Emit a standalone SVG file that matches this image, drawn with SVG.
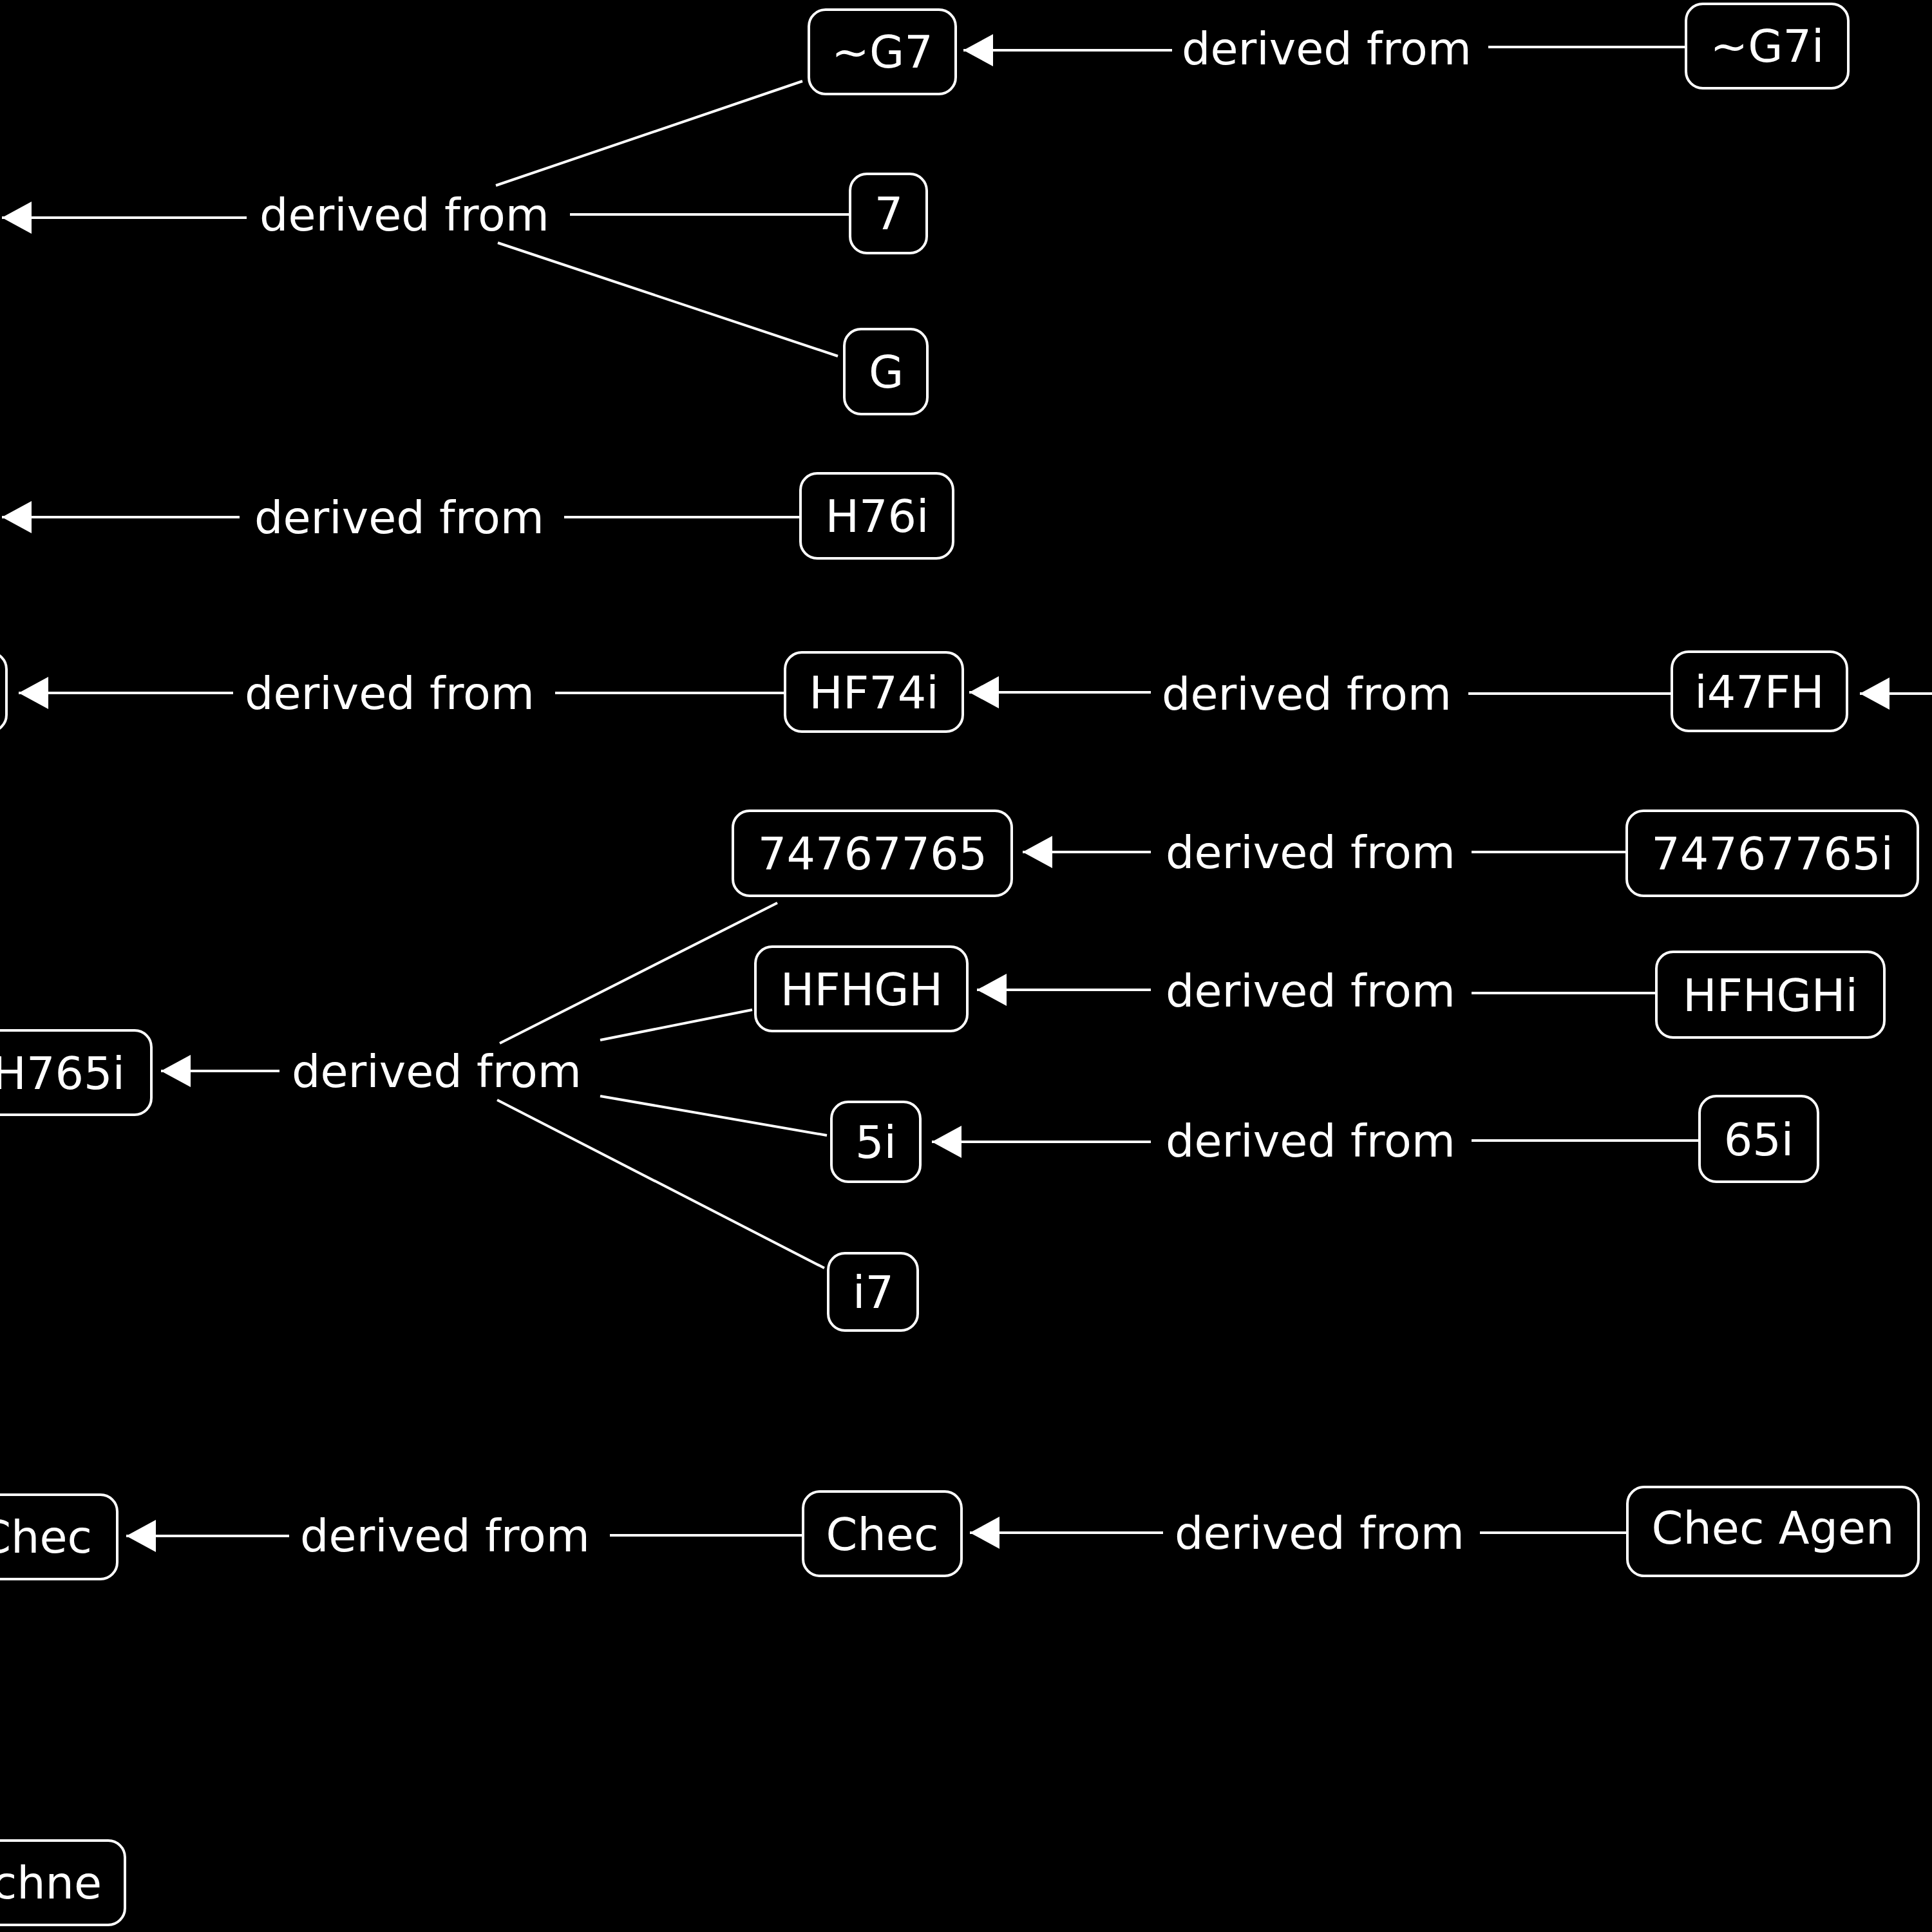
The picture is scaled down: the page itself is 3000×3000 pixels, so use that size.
<svg xmlns="http://www.w3.org/2000/svg" width="3000" height="3000" viewBox="0 0 3000 3000">
<style>
.bg{fill:#000}
.box{fill:#000;stroke:#fff;stroke-width:4}
.t{fill:#fff;font-family:"DejaVu Sans","Verdana",sans-serif;font-size:70px;text-anchor:middle}
.te{fill:#fff;font-family:"DejaVu Sans","Verdana",sans-serif;font-size:70px;text-anchor:end}
.c{stroke:#fff;stroke-width:4;fill:none}
.a{stroke:#fff;stroke-width:4;fill:none;marker-end:url(#ah)}
</style>
<defs>
<marker id="ah" markerUnits="userSpaceOnUse" markerWidth="46" markerHeight="50" refX="46" refY="25" orient="auto">
<path d="M0,0 L46,25 L0,50 Z" fill="#fff"/>
</marker>
</defs>
<rect class="bg" x="0" y="0" width="3000" height="3000"/>

<g id="connectors">
<line class="c" x1="2618" y1="73" x2="2311" y2="73"/>
<line class="a" x1="1820" y1="78" x2="1496" y2="78"/>
<text class="t" x="2060" y="100">derived from</text>
<line class="c" x1="1246" y1="126" x2="770" y2="288"/>
<line class="c" x1="1320" y1="333" x2="885" y2="333"/>
<line class="c" x1="1301" y1="553" x2="773" y2="377"/>
<line class="a" x1="383" y1="338" x2="3" y2="338"/>
<text class="t" x="628" y="358">derived from</text>
<line class="c" x1="1243" y1="803" x2="876" y2="803"/>
<line class="a" x1="372" y1="803" x2="3" y2="803"/>
<text class="t" x="620" y="828">derived from</text>
<line class="c" x1="1219" y1="1076" x2="862" y2="1076"/>
<line class="a" x1="362" y1="1076" x2="29" y2="1076"/>
<text class="t" x="605" y="1101">derived from</text>
<line class="c" x1="2596" y1="1077" x2="2280" y2="1077"/>
<line class="a" x1="1787" y1="1075" x2="1505" y2="1075"/>
<text class="t" x="2029" y="1102">derived from</text>
<line class="a" x1="3000" y1="1077" x2="2888" y2="1077"/>
<line class="c" x1="2526" y1="1323" x2="2285" y2="1323"/>
<line class="a" x1="1787" y1="1323" x2="1588" y2="1323"/>
<text class="t" x="2035" y="1348">derived from</text>
<line class="c" x1="2572" y1="1542" x2="2285" y2="1542"/>
<line class="a" x1="1787" y1="1537" x2="1517" y2="1537"/>
<text class="t" x="2035" y="1563">derived from</text>
<line class="c" x1="2639" y1="1771" x2="2285" y2="1771"/>
<line class="a" x1="1787" y1="1773" x2="1447" y2="1773"/>
<text class="t" x="2035" y="1796">derived from</text>
<line class="c" x1="1207" y1="1402" x2="776" y2="1620"/>
<line class="c" x1="1168" y1="1568" x2="932" y2="1615"/>
<line class="c" x1="1284" y1="1763" x2="932" y2="1702"/>
<line class="c" x1="1280" y1="1969" x2="772" y2="1708"/>
<line class="a" x1="434" y1="1663" x2="250" y2="1663"/>
<text class="t" x="678" y="1688">derived from</text>
<line class="c" x1="1247" y1="2384" x2="947" y2="2384"/>
<line class="a" x1="449" y1="2385" x2="196" y2="2385"/>
<text class="t" x="691" y="2409">derived from</text>
<line class="c" x1="2527" y1="2380" x2="2298" y2="2380"/>
<line class="a" x1="1806" y1="2380" x2="1506" y2="2380"/>
<text class="t" x="2049" y="2405">derived from</text>
</g>

<g id="n_G7"><rect class="box" x="1256" y="15" width="228" height="131" rx="26"/><text class="t" x="1370" y="105">~G7</text></g>
<g id="n_G7i"><rect class="box" x="2618" y="6" width="252" height="131" rx="26"/><text class="t" x="2744" y="96">~G7i</text></g>
<g id="n_7"><rect class="box" x="1320" y="270" width="119" height="123" rx="26"/><text class="t" x="1380" y="356">7</text></g>
<g id="n_G"><rect class="box" x="1311" y="511" width="129" height="132" rx="26"/><text class="t" x="1376" y="602">G</text></g>
<g id="n_H76i"><rect class="box" x="1243" y="735" width="237" height="132" rx="26"/><text class="t" x="1362" y="826">H76i</text></g>
<g id="n_HF74i"><rect class="box" x="1219" y="1013" width="276" height="123" rx="26"/><text class="t" x="1357" y="1100">HF74i</text></g>
<g id="n_i47FH"><rect class="box" x="2596" y="1012" width="272" height="123" rx="26"/><text class="t" x="2732" y="1099">i47FH</text></g>
<g id="n_left1"><rect class="box" x="-240" y="1013" width="250" height="123" rx="26"/></g>
<g id="n_74767765"><rect class="box" x="1138" y="1259" width="433" height="132" rx="26"/><text class="t" x="1355" y="1350">74767765</text></g>
<g id="n_74767765i"><rect class="box" x="2526" y="1259" width="452" height="132" rx="26"/><text class="t" x="2752" y="1350">74767765i</text></g>
<g id="n_HFHGH"><rect class="box" x="1173" y="1470" width="329" height="131" rx="26"/><text class="t" x="1338" y="1561">HFHGH</text></g>
<g id="n_HFHGHi"><rect class="box" x="2572" y="1478" width="354" height="133" rx="26"/><text class="t" x="2749" y="1570">HFHGHi</text></g>
<g id="n_H765i"><rect class="box" x="-60" y="1600" width="295" height="131" rx="26"/><text class="te" x="194" y="1691">H765i</text></g>
<g id="n_5i"><rect class="box" x="1291" y="1711" width="138" height="124" rx="26"/><text class="t" x="1360" y="1798">5i</text></g>
<g id="n_65i"><rect class="box" x="2639" y="1702" width="184" height="133" rx="26"/><text class="t" x="2731" y="1794">65i</text></g>
<g id="n_i7"><rect class="box" x="1286" y="1946" width="139" height="120" rx="26"/><text class="t" x="1356" y="2031">i7</text></g>
<g id="n_Chec_left"><rect class="box" x="-80" y="2321" width="262" height="131" rx="26"/><text class="te" x="143" y="2411">Chec</text></g>
<g id="n_Chec"><rect class="box" x="1247" y="2316" width="246" height="131" rx="26"/><text class="t" x="1370" y="2407">Chec</text></g>
<g id="n_ChecAgen"><rect class="box" x="2527" y="2309" width="452" height="138" rx="26"/><text class="t" x="2753" y="2397">Chec Agen</text></g>
<g id="n_chne"><rect class="box" x="-80" y="2858" width="274" height="131" rx="26"/><text class="te" x="158" y="2948">chne</text></g>
</svg>
